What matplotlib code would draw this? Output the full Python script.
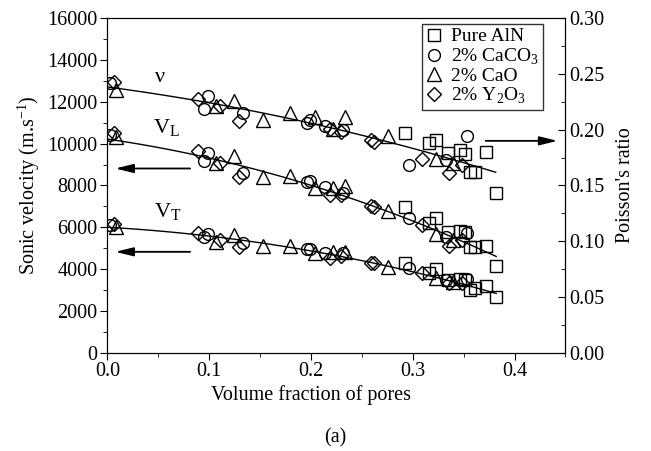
import matplotlib
matplotlib.use("Agg")
import matplotlib.pyplot as plt
import numpy as np
from matplotlib.ticker import MultipleLocator

plt.rcParams['font.family'] = ['Liberation Serif', 'DejaVu Serif']
plt.rcParams['mathtext.fontset'] = 'custom'
plt.rcParams['mathtext.rm'] = 'Liberation Serif'

# Pure AlN (squares)
aln_x = [0.292, 0.316, 0.323, 0.335, 0.346, 0.351, 0.356, 0.361, 0.372, 0.382]
aln_nu = [0.197, 0.188, 0.191, 0.179, 0.182, 0.178, 0.162, 0.162, 0.180, 0.143]
aln_vl = [6980, 6180, 6450, 5770, 5810, 5750, 5030, 5060, 5100, 4140]
aln_vt = [4270, 3790, 3980, 3450, 3500, 3450, 2990, 3070, 3180, 2670]

# 2% CaCO3 (circles)
caco3_x = [0.003, 0.095, 0.099, 0.133, 0.196, 0.199, 0.214, 0.231, 0.296, 0.333, 0.353]
caco3_nu = [0.242, 0.219, 0.230, 0.215, 0.206, 0.209, 0.203, 0.200, 0.168, 0.173, 0.194]
caco3_vl = [10410, 9180, 9560, 8600, 8170, 8200, 7900, 7620, 6420, 5540, 5700]
caco3_vt = [6100, 5510, 5670, 5230, 4940, 4960, 4780, 4750, 4030, 3470, 3500]

# 2% CaO (triangles)
cao_x = [0.008, 0.107, 0.124, 0.153, 0.179, 0.204, 0.222, 0.233, 0.276, 0.323, 0.340]
cao_nu = [0.236, 0.221, 0.226, 0.209, 0.215, 0.211, 0.201, 0.211, 0.194, 0.174, 0.170]
cao_vl = [10300, 9080, 9400, 8380, 8450, 7860, 7860, 7970, 6790, 5670, 5380]
cao_vt = [6020, 5300, 5620, 5100, 5100, 4750, 4820, 4830, 4110, 3550, 3390]

# 2% Y2O3 (diamonds)
y2o3_x = [0.006, 0.089, 0.111, 0.129, 0.219, 0.230, 0.259, 0.262, 0.309, 0.336, 0.348]
y2o3_nu = [0.243, 0.228, 0.221, 0.208, 0.201, 0.198, 0.191, 0.189, 0.174, 0.161, 0.168]
y2o3_vl = [10490, 9660, 9050, 8410, 7540, 7560, 7010, 6950, 6100, 5100, 5400]
y2o3_vt = [6150, 5700, 5380, 5060, 4510, 4600, 4270, 4300, 3790, 3310, 3350]

# points
nu_fit_x = [0.0, 0.09, 0.2475, 0.3815]
nu_fit_y = [0.238, 0.2265, 0.195, 0.162]
vl_fit_x = [0.0, 0.09, 0.235, 0.300, 0.382]
vl_fit_y = [10200, 9450, 7455, 6260, 4620]
vt_fit_x = [0.0, 0.0876, 0.169, 0.248, 0.382]
vt_fit_y = [6000, 5622, 5144, 4400, 2832]

labels = ['Pure AlN', '2% CaCO$_3$', '2% CaO', '2% Y$_2$O$_3$']
markers = ['s', 'o', '^', 'D']
msizes = [8, 8.5, 9.5, 7]

FS = 14.5


def fit_line(ax, xs, ys, xmax):
    c = np.polyfit(xs, ys, 2)
    xx = np.linspace(0, xmax, 100)
    ax.plot(xx, np.polyval(c, xx), color='black', lw=1.0, zorder=1)


def main():
    fig = plt.figure(figsize=(6.51, 4.51), dpi=100)
    ax = fig.add_axes([0.165, 0.2184, 0.7035, 0.741])
    ax2 = ax.twinx()

    xs = [aln_x, caco3_x, cao_x, y2o3_x]
    nus = [aln_nu, caco3_nu, cao_nu, y2o3_nu]
    vls = [aln_vl, caco3_vl, cao_vl, y2o3_vl]
    vts = [aln_vt, caco3_vt, cao_vt, y2o3_vt]

    handles = []
    for x, nu, vl, vt, m, ms, lab in zip(xs, nus, vls, vts, markers, msizes, labels):
        kw = dict(ls='none', marker=m, ms=ms, mfc='none', mec='black', mew=1.0)
        h, = ax.plot(x, vl, label=lab, **kw)
        ax.plot(x, vt, **kw)
        ax2.plot(x, nu, **kw)
        handles.append(h)

    fit_line(ax, vl_fit_x, vl_fit_y, 0.382)
    fit_line(ax, vt_fit_x, vt_fit_y, 0.382)
    fit_line(ax2, nu_fit_x, nu_fit_y, 0.3815)

    ax.set_xlim(0, 0.45)
    ax.set_ylim(0, 16000)
    ax2.set_ylim(0, 0.30)

    ax.xaxis.set_major_locator(MultipleLocator(0.1))
    ax.xaxis.set_minor_locator(MultipleLocator(0.05))
    ax.yaxis.set_major_locator(MultipleLocator(2000))
    ax.yaxis.set_minor_locator(MultipleLocator(1000))
    ax2.yaxis.set_major_locator(MultipleLocator(0.05))
    ax2.yaxis.set_minor_locator(MultipleLocator(0.025))
    ax.xaxis.set_major_formatter(plt.FuncFormatter(lambda v, p: f"{v:.1f}"))
    ax2.yaxis.set_major_formatter(plt.FuncFormatter(lambda v, p: f"{v:.2f}"))

    ax.tick_params(axis='both', which='major', direction='out', length=5, labelsize=FS, pad=2)
    ax.tick_params(axis='both', which='minor', direction='out', length=3)
    ax2.tick_params(axis='y', which='major', direction='in', length=5, labelsize=FS, pad=3)
    ax2.tick_params(axis='y', which='minor', direction='in', length=3)

    ax.set_xlabel('Volume fraction of pores', fontsize=FS, labelpad=3, x=0.444)
    ax.set_ylabel('Sonic velocity (m.s$^{-1}$)', fontsize=FS, labelpad=4)
    ax2.set_ylabel("Poisson's ratio", fontsize=FS, labelpad=8)

    ax2.text(0.052, 0.247, 'ν', fontsize=16, ha='center', va='center')
    ax.text(0.058, 10750, 'V$_\\mathregular{L}$', fontsize=16, ha='center', va='center')
    ax.text(0.059, 6740, 'V$_\\mathregular{T}$', fontsize=16, ha='center', va='center')

    arw = dict(arrowstyle='-|>,head_length=0.9,head_width=0.22', color='black',
               lw=1.3, mutation_scale=12)
    ax.annotate('', xy=(0.005, 8810), xytext=(0.084, 8810), arrowprops=arw)
    ax.annotate('', xy=(0.005, 4820), xytext=(0.084, 4820), arrowprops=arw)
    ax2.annotate('', xy=(0.445, 0.190), xytext=(0.369, 0.190), arrowprops=arw)

    leg = ax2.legend(handles, labels, loc='upper right', bbox_to_anchor=(0.96, 0.995),
                     fontsize=14, frameon=True, fancybox=False, edgecolor='black',
                     handlelength=0.8, handletextpad=0.5, borderpad=0.2,
                     labelspacing=0.05, borderaxespad=0.2)
    leg.get_frame().set_linewidth(1.0)

    fig.text(0.515, 0.03, '(a)', fontsize=FS, ha='center', va='center')

    fig.savefig('out.png', dpi=100)


if __name__ == "__main__":
    main()
